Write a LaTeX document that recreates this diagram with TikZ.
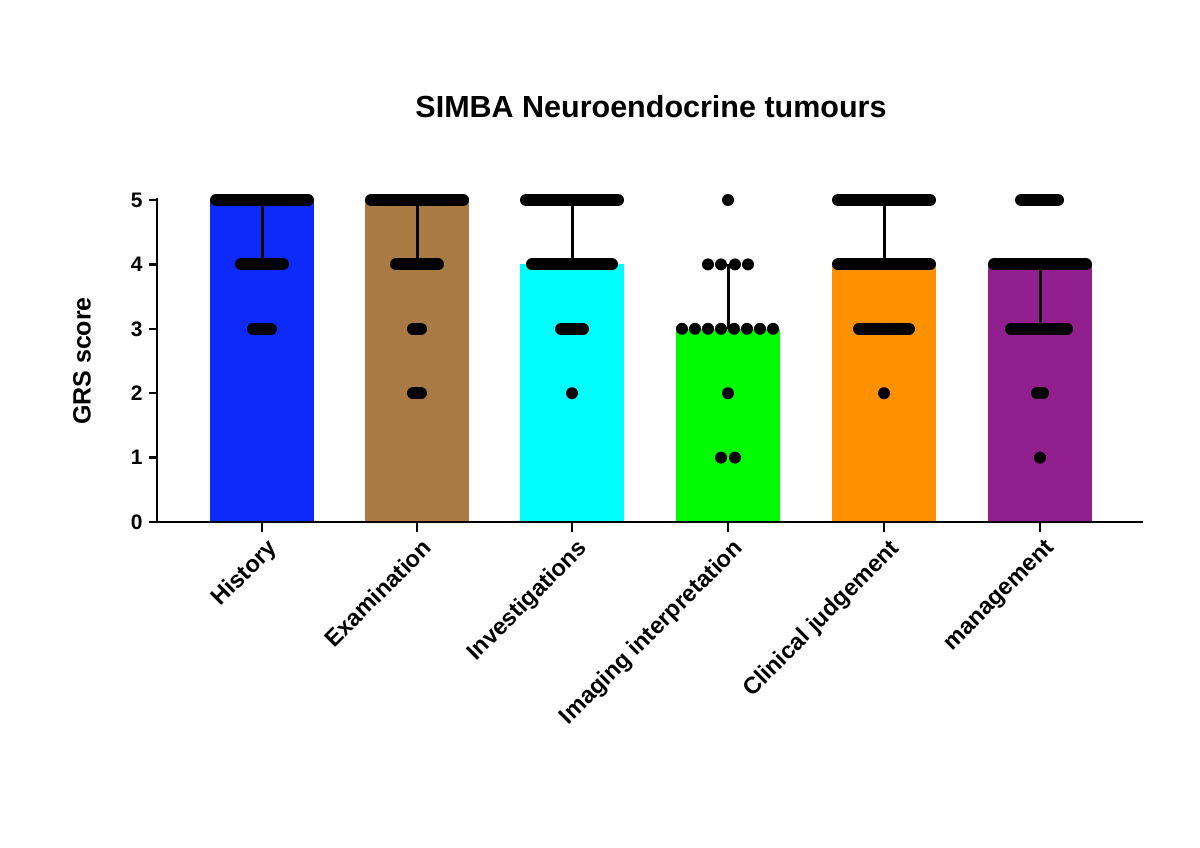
\documentclass[tikz,border=0pt]{standalone}
\usepackage{fontspec}
\setmainfont{Liberation Sans}
\begin{document}
\begin{tikzpicture}[x=1pt,y=-1pt,
  strip/.style={line width=12pt,line cap=round},
  dot/.style={circle,fill=black,inner sep=0pt,minimum size=12pt},
  whisk/.style={line width=3pt},
  lab/.style={font=\bfseries\fontsize{21}{22}\selectfont},
  catlab/.style={font=\bfseries\fontsize{23.5}{25}\selectfont,rotate=45,anchor=north east,inner sep=1pt}]
\useasboundingbox (0,0) rectangle (1200,848);
\definecolor{cHist}{RGB}{14,42,250}
\definecolor{cExam}{RGB}{170,122,68}
\definecolor{cInv}{RGB}{0,255,255}
\definecolor{cImg}{RGB}{0,250,0}
\definecolor{cClin}{RGB}{255,145,0}
\definecolor{cMan}{RGB}{145,32,142}
\node[font=\bfseries\fontsize{30.5}{32}\selectfont] (title) at (651,107) {SIMBA Neuroendocrine tumours};
\node[font=\bfseries\fontsize{25}{26}\selectfont,rotate=90] (ylab) at (82,361) {GRS score};
% bars
\fill[cHist] (210,200) rectangle (314,522);
\fill[cExam] (365,200) rectangle (469,522);
\fill[cInv] (520,264.4) rectangle (624,522);
\fill[cImg] (676,328.8) rectangle (780,522);
\fill[cClin] (832,264.4) rectangle (936,522);
\fill[cMan] (988,264.4) rectangle (1092,522);
% axes
\draw[line width=2.5pt] (157,198) -- (157,522) -- (1143,522);
\foreach \v in {0,...,5}{
  \draw[line width=2.5pt] (149,522-64.4*\v) -- (157,522-64.4*\v);
  \node[lab,anchor=east] (t\v) at (146,522-64.4*\v) {\v};
}
\foreach \x in {262,417,572,728,884,1040}
  \draw[line width=2.5pt] (\x,522) -- (\x,532);
% whiskers
\draw[whisk] (262,200) -- (262,264.4);
\draw[whisk] (417,200) -- (417,264.4);
\draw[whisk] (572,264.4) -- (572,200);
\draw[whisk] (728,328.8) -- (728,264.4);
\draw[whisk] (884,264.4) -- (884,200);
\draw[whisk] (1040,264.4) -- (1040,328.8);
% History
\draw[strip] (216,200) -- (308,200);
\draw[strip] (241,264.4) -- (283,264.4);
\draw[strip] (253,328.8) -- (271,328.8);
% Examination
\draw[strip] (371,200) -- (463,200);
\draw[strip] (396,264.4) -- (438,264.4);
\draw[strip] (413,328.8) -- (421,328.8);
\draw[strip] (413,393.2) -- (421,393.2);
% Investigations
\draw[strip] (526,200) -- (618,200);
\draw[strip] (532,264.4) -- (612,264.4);
\draw[strip] (561,328.8) -- (583,328.8);
\node[dot] (iv2) at (572,393.2) {};
% Imaging
\node[dot] (im5) at (728,200) {};
\foreach \x in {708,721,735,748} \node[dot] at (\x,264.4) {};
\foreach \i in {0,...,7} \node[dot] at (682+13*\i,328.8) {};
\node[dot] (im2) at (728,393.2) {};
\node[dot] (im1a) at (721,457.6) {};
\node[dot] (im1b) at (735,457.6) {};
% Clinical
\draw[strip] (838,200) -- (930,200);
\draw[strip] (838,264.4) -- (930,264.4);
\draw[strip] (859,328.8) -- (909,328.8);
\node[dot] (cl2) at (884,393.2) {};
% management
\draw[strip] (1021,200) -- (1058,200);
\draw[strip] (994,264.4) -- (1086,264.4);
\draw[strip] (1011,328.8) -- (1067,328.8);
\draw[strip] (1037,393.2) -- (1043,393.2);
\node[dot] (mn1) at (1040,457.6) {};
% category labels
\node[catlab] (c1) at (266,536) {History};
\node[catlab] (c2) at (421,536) {Examination};
\node[catlab] (c3) at (576,536) {Investigations};
\node[catlab] (c4) at (732,536) {Imaging interpretation};
\node[catlab] (c5) at (888,536) {Clinical judgement};
\node[catlab] (c6) at (1044,536) {management};
\end{tikzpicture}
\end{document}
